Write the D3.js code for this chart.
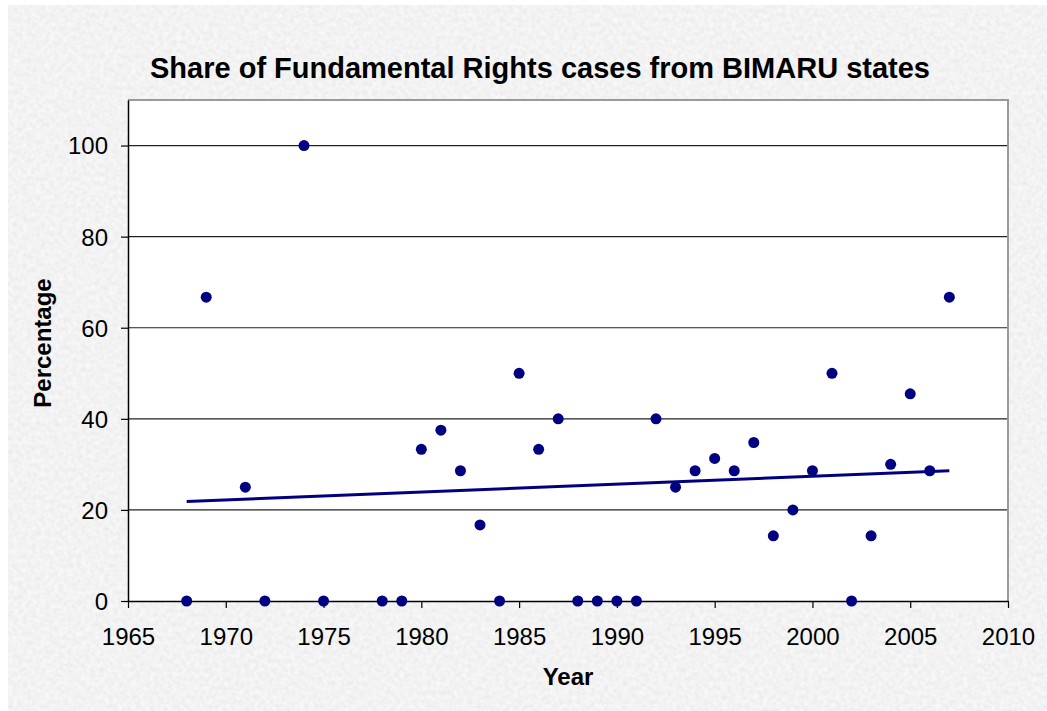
<!DOCTYPE html>
<html>
<head>
<meta charset="utf-8">
<script src="https://cdn.jsdelivr.net/npm/d3@7"></script>
<style>
  html, body { margin: 0; padding: 0; background: #ffffff; }
  svg { display: block; }
  text { font-family: "Liberation Sans", Arial, sans-serif; fill: #000; }
</style>
</head>
<body>
<svg id="chart" width="1047" height="711"></svg>
<script>
// ---- Data ----
const years = [1968, 1969, 1971, 1972, 1974, 1975, 1978, 1979, 1980, 1981,
               1982, 1983, 1984, 1985, 1986, 1987, 1988, 1989, 1990, 1991,
               1992, 1993, 1994, 1995, 1996, 1997, 1998, 1999, 2000, 2001,
               2002, 2003, 2004, 2005, 2006, 2007];
const percentages = [0, 66.7, 25, 0, 100, 0, 0, 0, 33.3, 37.5,
                     28.6, 16.7, 0, 50, 33.3, 40, 0, 0, 0, 0,
                     40, 25, 28.6, 31.3, 28.6, 34.8, 14.3, 20, 28.6, 50,
                     0, 14.3, 30, 45.5, 28.6, 66.7];
const xTicks = [1965, 1970, 1975, 1980, 1985, 1990, 1995, 2000, 2005, 2010];
const yTicks = [0, 20, 40, 60, 80, 100];
const xDomain = [1965, 2010];
const yDomain = [0, 110];
const titleText = "Share of Fundamental Rights cases from BIMARU states";
const xTitle = "Year";
const yTitle = "Percentage";

// ---- Layout ----
const svg = d3.select("#chart");
const W = 1047, H = 711;
const plot = { left: 128, right: 1008, top: 100, bottom: 601 };
const navy = "#000080";

// background texture
const defs = svg.append("defs");
const f = defs.append("filter").attr("id", "paper")
  .attr("x", 0).attr("y", 0).attr("width", "100%").attr("height", "100%");
f.append("feTurbulence").attr("type", "fractalNoise")
  .attr("baseFrequency", "0.22").attr("numOctaves", 4).attr("seed", 7).attr("result", "n");
f.append("feColorMatrix").attr("in", "n").attr("type", "matrix")
  .attr("values", "0.17 0 0 0 0.805  0.17 0 0 0 0.805  0.17 0 0 0 0.805  0 0 0 0 1");

svg.append("rect").attr("x", 8).attr("y", 5).attr("width", W - 8).attr("height", H - 5)
  .attr("fill", "#e3e3e3");
svg.append("rect").attr("x", 8).attr("y", 5).attr("width", W - 8).attr("height", H - 5)
  .attr("filter", "url(#paper)");

// plot area
svg.append("rect").attr("x", plot.left).attr("y", plot.top)
  .attr("width", plot.right - plot.left).attr("height", plot.bottom - plot.top)
  .attr("fill", "#ffffff");

const x = d3.scaleLinear().domain(xDomain).range([plot.left, plot.right]);
const y = d3.scaleLinear().domain(yDomain).range([plot.bottom, plot.top]);

// gridlines
svg.append("g").selectAll("line").data(yTicks.filter(d => d > 0)).join("line")
  .attr("x1", plot.left).attr("x2", plot.right)
  .attr("y1", d => y(d)).attr("y2", d => y(d))
  .attr("stroke", "#222").attr("stroke-width", 1.2);

// top & right border
svg.append("path")
  .attr("d", `M${plot.left},${plot.top}H${plot.right}V${plot.bottom}`)
  .attr("fill", "none").attr("stroke", "#9a9a9a").attr("stroke-width", 2);

// axes
const gx = svg.append("g").attr("transform", `translate(0,${plot.bottom})`)
  .call(d3.axisBottom(x).tickValues(xTicks).tickFormat(d3.format("d"))
    .tickSize(7).tickSizeOuter(0));
const gy = svg.append("g").attr("transform", `translate(${plot.left},0)`)
  .call(d3.axisLeft(y).tickValues(yTicks).tickFormat(d3.format("d"))
    .tickSize(7).tickSizeOuter(0));

[gx, gy].forEach(g => {
  g.select(".domain").attr("stroke", "#000").attr("stroke-width", 1.5);
  g.selectAll(".tick line").attr("stroke", "#000").attr("stroke-width", 1.2);
  g.selectAll("text").style("font-family", '"Liberation Sans", Arial, sans-serif')
    .style("font-size", "24px").attr("fill", "#000");
});
gx.selectAll("text").attr("y", 44).attr("dy", 0);
gy.selectAll("text").attr("x", -20).attr("dy", "0.35em");

// linear trendline (least squares)
const n = years.length;
const mx = d3.mean(years), my = d3.mean(percentages);
let sxy = 0, sxx = 0;
for (let i = 0; i < n; i++) {
  sxy += (years[i] - mx) * (percentages[i] - my);
  sxx += (years[i] - mx) * (years[i] - mx);
}
const slope = sxy / sxx, intercept = my - slope * mx;
const ext = d3.extent(years);
svg.append("line")
  .attr("x1", x(ext[0])).attr("y1", y(intercept + slope * ext[0]))
  .attr("x2", x(ext[1])).attr("y2", y(intercept + slope * ext[1]))
  .attr("stroke", navy).attr("stroke-width", 3);

// points
svg.append("g").selectAll("circle").data(years.map((yr, i) => [yr, percentages[i]]))
  .join("circle")
  .attr("cx", d => x(d[0])).attr("cy", d => y(d[1])).attr("r", 5.5)
  .attr("fill", navy);

// titles
svg.append("text").attr("x", 540).attr("y", 78).attr("text-anchor", "middle")
  .style("font-size", "29px").style("font-weight", "bold").text(titleText);
svg.append("text").attr("x", (plot.left + plot.right) / 2).attr("y", 685)
  .attr("text-anchor", "middle")
  .style("font-size", "24px").style("font-weight", "bold").text(xTitle);
svg.append("text").attr("transform", "translate(50.5,343) rotate(-90)")
  .attr("text-anchor", "middle")
  .style("font-size", "24px").style("font-weight", "bold").text(yTitle);
</script>
</body>
</html>
